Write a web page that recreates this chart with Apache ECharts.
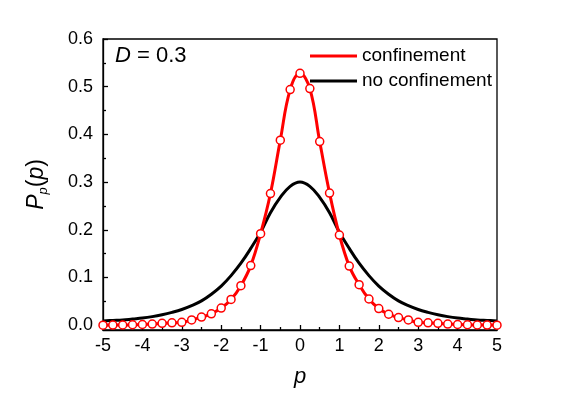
<!DOCTYPE html>
<html lang="en">
<head>
    <meta charset="UTF-8">
    <title>confinement-distribution</title>
    <script src="https://cdn.jsdelivr.net/npm/echarts@6/dist/echarts.min.js"></script>
    <style>
        html, body {
            margin: 0;
            padding: 0;
            background: #fff;
        }

        #main {
            width: 562px;
            height: 399px;
        }
    </style>
</head>
<body>
<div id="main"></div>
<script>
    // p values, step 0.25 from -5 to 5
    let pValues = [];
    for (let i = -20; i <= 20; i++) {
        pValues.push(i / 4);
    }

    // confinement (red, with markers)
    let confinement = [
        0.0002, 0.0003, 0.0005, 0.001, 0.0015, 0.0025, 0.004, 0.005, 0.006, 0.011,
        0.017, 0.024, 0.036, 0.054, 0.083, 0.125, 0.192, 0.276, 0.388, 0.494,
        0.528,
        0.496, 0.385, 0.277, 0.189, 0.124, 0.085, 0.055, 0.035, 0.023, 0.016,
        0.011, 0.006, 0.005, 0.004, 0.0025, 0.0015, 0.001, 0.0005, 0.0003, 0.0002
    ];

    // no confinement (black)
    let noConfinement = [
        0.009, 0.010, 0.011, 0.013, 0.015, 0.018, 0.022, 0.027, 0.033, 0.041,
        0.051, 0.065, 0.082, 0.104, 0.130, 0.161, 0.195, 0.236, 0.268, 0.291,
        0.300,
        0.291, 0.268, 0.236, 0.195, 0.161, 0.130, 0.104, 0.082, 0.065, 0.051,
        0.041, 0.033, 0.027, 0.022, 0.018, 0.015, 0.013, 0.011, 0.010, 0.009
    ];

    // tick values
    let yTicks = [0, 0.1, 0.2, 0.3, 0.4, 0.5, 0.6];
    let yMinorTicks = [0.05, 0.15, 0.25, 0.35, 0.45, 0.55];

    let fontName = '"Liberation Sans", Arial, sans-serif';

    function pairs(ys) {
        return pValues.map((p, i) => [p, ys[i]]);
    }

    let option = {
        animation: false,
        backgroundColor: '#fff',
        textStyle: {
            fontFamily: fontName
        },
        grid: {
            left: 103,
            top: 39,
            right: 65,
            bottom: 69,
            show: true,
            borderColor: '#000',
            borderWidth: 1.3,
            backgroundColor: 'transparent'
        },
        legend: {
            orient: 'vertical',
            left: 305,
            top: 41,
            itemGap: 5,
            itemWidth: 47,
            itemHeight: 3,
            textStyle: {
                fontSize: 19,
                color: '#000',
                fontFamily: fontName,
                lineHeight: 20
            },
            data: [
                {name: 'confinement', icon: 'rect', itemStyle: {color: '#ff0000', borderWidth: 0}},
                {name: 'no confinement', icon: 'rect', itemStyle: {color: '#000', borderWidth: 0}}
            ]
        },
        xAxis: {
            type: 'value',
            min: -5,
            max: 5,
            interval: 1,
            name: 'p',
            nameLocation: 'middle',
            nameGap: 36,
            nameTextStyle: {
                fontSize: 22,
                fontStyle: 'italic',
                color: '#000'
            },
            axisLine: {onZero: false, lineStyle: {color: '#000', width: 1.3}},
            axisTick: {inside: true, length: 5, lineStyle: {color: '#000', width: 1.3}},
            minorTick: {show: true, splitNumber: 2, length: 3, lineStyle: {color: '#000', width: 1.3}},
            splitLine: {show: false},
            axisLabel: {
                fontSize: 18,
                color: '#000',
                margin: 7,
                formatter: v => String(v)
            }
        },
        yAxis: [
            {
                type: 'value',
                min: -0.01,
                max: 0.6,
                name: '{i|P}{s|p}{n|(}{i|p}{n|)}',
                nameLocation: 'middle',
                nameRotate: 90,
                nameGap: 53,
                nameTextStyle: {
                    color: '#000',
                    rich: {
                        i: {fontSize: 23, fontStyle: 'italic', fontFamily: fontName, color: '#000'},
                        n: {fontSize: 23, fontFamily: fontName, color: '#000'},
                        s: {fontSize: 13, fontStyle: 'italic', fontFamily: fontName, color: '#000', padding: [14, 0, 0, 0]}
                    }
                },
                axisLine: {show: true, onZero: false, lineStyle: {color: '#000', width: 1.3}},
                axisTick: {
                    show: true, inside: true, length: 5,
                    customValues: yTicks,
                    lineStyle: {color: '#000', width: 1.3}
                },
                splitLine: {show: false},
                axisLabel: {
                    fontSize: 18,
                    color: '#000',
                    margin: 10,
                    customValues: yTicks,
                    formatter: v => v.toFixed(1)
                }
            },
            {
                // minor ticks only
                type: 'value',
                min: -0.01,
                max: 0.6,
                position: 'left',
                axisLine: {show: false, onZero: false},
                axisTick: {
                    show: true, inside: true, length: 3,
                    customValues: yMinorTicks,
                    lineStyle: {color: '#000', width: 1.3}
                },
                axisLabel: {show: false},
                splitLine: {show: false}
            }
        ],
        graphic: [
            {
                type: 'text',
                left: 115,
                top: 45,
                style: {
                    text: '{i|D} = 0.3',
                    font: '22px ' + fontName,
                    fill: '#000',
                    rich: {
                        i: {fontStyle: 'italic', fontSize: 22, fontFamily: fontName}
                    }
                }
            }
        ],
        series: [
            {
                name: 'no confinement',
                type: 'line',
                data: pairs(noConfinement),
                smooth: 0.4,
                showSymbol: false,
                symbol: 'none',
                clip: false,
                lineStyle: {color: '#000', width: 3},
                itemStyle: {color: '#000'},
                z: 2
            },
            {
                name: 'confinement',
                type: 'line',
                data: pairs(confinement),
                smooth: 0.4,
                symbol: 'circle',
                symbolSize: 8,
                clip: false,
                lineStyle: {color: '#ff0000', width: 3},
                itemStyle: {color: '#fff', borderColor: '#ff0000', borderWidth: 1.5},
                z: 3
            }
        ]
    };

    let myChart = echarts.init(document.getElementById('main'), null, {
        renderer: 'canvas'
    });
    myChart.setOption(option);
</script>
</body>
</html>
